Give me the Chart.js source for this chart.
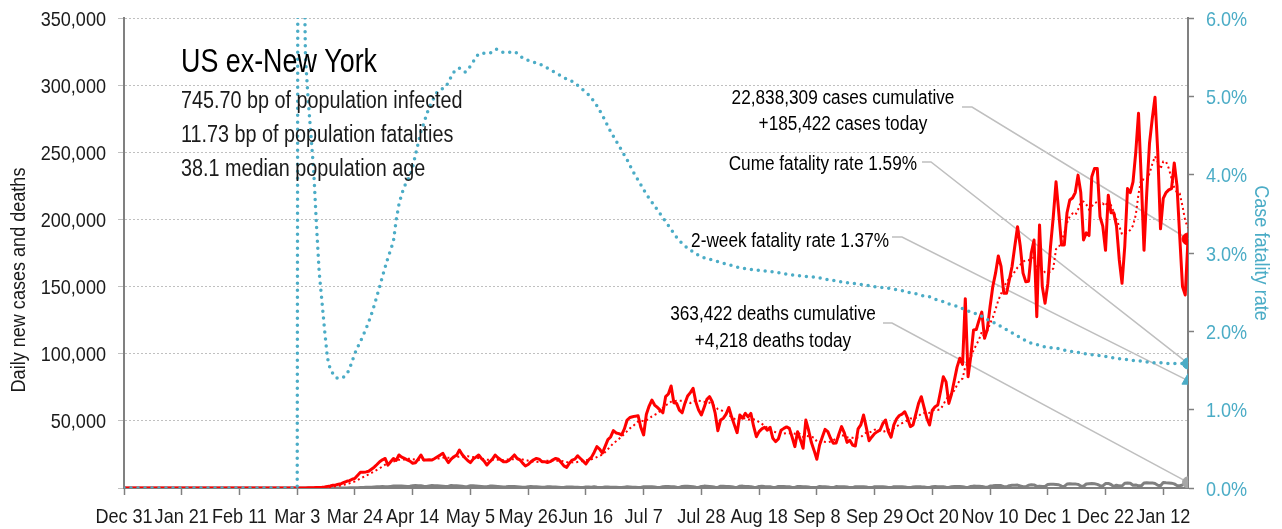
<!DOCTYPE html>
<html>
<head>
<meta charset="utf-8">
<script src="https://cdn.jsdelivr.net/npm/chart.js@4.4.1/dist/chart.umd.min.js"></script>
<style>
  html, body { margin: 0; padding: 0; background: #fff; }
  #wrap { width: 1282px; height: 529px; position: relative; }
</style>
</head>
<body>
<div id="wrap"><canvas id="cfr-chart"></canvas></div>
<script>
// narrow look: Liberation Sans squeezed horizontally
const FONT = '"Liberation Sans", Arial, sans-serif';
const SX = 0.86;
const TEAL = '#4BACC6';
const INK = '#1a1a1a';

// x axis: day 0 = Dec 31 2019, one point per day
const tickDays = [0, 21, 42, 63, 84, 105, 126, 147, 168, 189, 210, 231, 252, 273, 294, 315, 336, 357, 378];
const tickLabels = ["Dec 31", "Jan 21", "Feb 11", "Mar 3", "Mar 24", "Apr 14", "May 5", "May 26", "Jun 16", "Jul 7",
    "Jul 28", "Aug 18", "Sep 8", "Sep 29", "Oct 20", "Nov 10", "Dec 1", "Dec 22", "Jan 12"];
const lastDay = 387;

const dailyCases = [
    0, 0, 0, 0, 0, 0, 0,  0, 0, 0, 0, 0, 0, 0,  0, 0, 0, 0, 0, 0, 0,
    0, 0, 0, 0, 0, 0, 0,  0, 0, 0, 0, 0, 0, 0,  0, 0, 0, 0, 0, 0, 0,
    0, 0, 0, 0, 0, 0, 0,  0, 0, 0, 0, 0, 0, 0,  0, 0, 0, 0, 0, 0, 0,
    30, 40, 60, 90, 130, 150, 200,
    300, 400, 500, 700, 1200, 1500, 2000,
    2300, 2800, 3200, 4200, 5000, 5500, 6500,
    7200, 9500, 11700, 11800, 12000, 12500, 14000,
    15500, 17500, 19600, 21000, 22000, 17000, 19500,
    22000, 20500, 24600, 23000, 22000, 21000, 20000,
    18400, 18800, 21500, 24600, 20800, 20800, 21000,
    20800, 22000, 23300, 24500, 25800, 22000, 18900,
    21500, 23300, 24500, 28300, 25000, 22500, 20500,
    18900, 21500, 23000, 24600, 22000, 20000, 17100,
    19500, 21500, 24600, 22500, 21000, 19600, 19500,
    20500, 22500, 24600, 22000, 21000, 18500, 16400,
    17500, 19500, 21000, 22000, 21500, 19600, 19600,
    19000, 19600, 21000, 22000, 21400, 19000, 16500,
    15400, 18500, 20800, 21500, 24000, 22000, 20000,
    17900, 21000, 22800, 26500, 30800, 29000, 26000,
    31000, 36000, 38000, 42700, 41000, 40500, 39500,
    44000, 50600, 52500, 53000, 53500, 53800, 45000,
    39500, 55000, 61000, 65500, 61800, 60000, 58000,
    56000, 68000, 70000, 76000, 63500, 63000, 58000,
    56000, 63000, 68500, 71000, 74200, 64000, 58000,
    54400, 60000, 66000, 68000, 64000, 56000, 42700,
    50600, 52000, 55000, 60000, 53000, 47000, 41200,
    54400, 52000, 55600, 53000, 55600, 46000, 38200,
    42000, 44000, 45200, 43000, 45200, 37000, 34500,
    36500, 43000, 44400, 45500, 44400, 38000, 30800,
    41900, 36000, 29600, 50600, 43000, 34000, 28000,
    21400, 32000, 38000, 43700, 42000, 37000, 33300,
    33500, 40000, 45700, 41000, 34000, 35500, 32000,
    31300, 44000, 47000, 54400, 45000, 35200, 38000,
    40500, 42000, 43200, 48000, 50600, 42000, 37800,
    47000, 51500, 54000, 55000, 56800, 52000, 45700,
    47000, 55000, 63000, 68000, 60000, 52000, 46900,
    58000, 60500, 61800, 72000, 82900, 79000, 63000,
    70000, 80000, 90000, 96600, 92000, 141000, 82900,
    98000, 117700, 118000, 125000, 131000, 111500, 118000,
    135000, 150000, 160000, 172800, 165000, 145000, 145000,
    155000, 165000, 180000, 194600, 180000, 160000, 153600,
    154000, 175000, 184700, 127600, 195900, 150000, 137500,
    152000, 180000, 202000, 228000, 205000, 181000, 181000,
    205000, 214500, 216000, 220000, 233000, 220000, 184700,
    190000, 188000, 231800, 238000, 238000, 202000, 195000,
    177000, 218000, 205000, 205000, 195000, 170000, 152400,
    180000, 223000, 220000, 228000, 250000, 279000, 230000,
    177000, 220000, 256700, 275000, 291000, 250000, 193000,
    215700, 220000, 222000, 223000, 242000, 225000, 187000,
    150000, 143700, 185422
];

const casesAvg7 = [
    0, 0, 0, 0, 0, 0, 0,  0, 0, 0, 0, 0, 0, 0,  0, 0, 0, 0, 0, 0, 0,
    0, 0, 0, 0, 0, 0, 0,  0, 0, 0, 0, 0, 0, 0,  0, 0, 0, 0, 0, 0, 0,
    0, 0, 0, 0, 0, 0, 0,  0, 0, 0, 0, 0, 0, 0,  0, 0, 0, 0, 0, 0, 0,
    0, 10, 20, 30, 50, 70, 100,
    140, 190, 250, 340, 490, 690, 940,
    1230, 1570, 1960, 2460, 3000, 3570, 4210,
    4910, 5870, 7090, 8170, 9170, 10170, 11240,
    12430, 13570, 14700, 16010, 17440, 18090, 18870,
    19800, 20230, 20940, 21230, 21230, 21800, 21870,
    21360, 21110, 20670, 20900, 20730, 20700, 20840,
    21190, 21640, 21900, 21890, 22600, 22770, 22470,
    22570, 22760, 22930, 23470, 23360, 23430, 23660,
    23290, 23030, 22810, 22290, 21860, 21500, 21010,
    21100, 21100, 21330, 21030, 20890, 20830, 21170,
    21310, 21460, 21460, 21390, 21390, 21230, 20790,
    20360, 19930, 19410, 19410, 19490, 19640, 20100,
    20310, 20330, 20330, 20330, 20310, 20230, 19790,
    19270, 19110, 19090, 19010, 19390, 19810, 20310,
    20670, 21030, 21310, 22030, 23000, 24000, 24860,
    26730, 28870, 31040, 33360, 34810, 36460, 38390,
    40240, 42330, 44400, 45870, 47660, 49560, 50340,
    49700, 50330, 51540, 53330, 54510, 55400, 57260,
    59610, 61470, 62760, 64260, 64500, 64930, 64930,
    64930, 64210, 64000, 63290, 64810, 64960, 64960,
    64730, 64300, 63940, 63510, 62060, 60910, 58730,
    58190, 57040, 55470, 54330, 52760, 51470, 51260,
    51800, 51800, 51890, 50890, 51260, 51110, 50690,
    48910, 47770, 46290, 44860, 43370, 42090, 41560,
    40770, 40630, 40510, 40870, 40760, 40900, 40370,
    41140, 40140, 38030, 38760, 38560, 37990, 37590,
    34660, 34090, 35290, 34300, 34160, 34590, 35340,
    37070, 38210, 39310, 38930, 37790, 37570, 37390,
    37070, 37640, 37830, 39740, 41310, 41270, 42130,
    43440, 43160, 42610, 41700, 42500, 43470, 43440,
    44370, 45730, 47270, 48270, 49160, 50590, 51710,
    51710, 52210, 53500, 55360, 55810, 55810, 55990,
    57560, 58340, 58170, 58740, 62010, 65870, 68170,
    69890, 72670, 76700, 80210, 81510, 90370, 93210,
    97210, 102600, 106600, 110660, 116230, 112010, 117030,
    122310, 126930, 132930, 139760, 144610, 149400, 153260,
    156110, 158260, 161110, 164230, 166370, 168510, 169740,
    169600, 171030, 171700, 162130, 164400, 162970, 160670,
    160390, 161100, 163570, 177910, 179210, 183640, 189860,
    197430, 202360, 204360, 203210, 207210, 212790, 213310,
    211170, 207390, 209640, 212210, 212930, 210360, 211830,
    209970, 214260, 210430, 205710, 199570, 195000, 188910,
    189340, 190060, 192200, 195490, 203340, 218910, 230000,
    229570, 229140, 234390, 241100, 246960, 242810, 237530,
    243060, 243060, 238100, 230670, 223670, 220100, 219240,
    209860, 198960, 193730
];

const dailyDeaths = [
    0, 0, 0, 0, 0, 0, 0,  0, 0, 0, 0, 0, 0, 0,  0, 0, 0, 0, 0, 0, 0,
    0, 0, 0, 0, 0, 0, 0,  0, 0, 0, 0, 0, 0, 0,  0, 0, 0, 0, 0, 0, 0,
    0, 0, 0, 0, 0, 0, 0,  0, 0, 0, 0, 0, 0, 0,  0, 0, 0, 0, 0, 0, 0,
    1, 2, 1, 3, 2, 3, 4,
    5, 8, 8, 12, 15, 20, 25,
    30, 40, 55, 70, 90, 120, 160,
    200, 280, 330, 400, 500, 600, 650,
    800, 900, 1000, 1100, 1000, 900, 1200,
    1500, 1500, 1500, 1400, 1300, 1100, 1300,
    1700, 1800, 1700, 1700, 1400, 1200, 1500,
    1800, 1700, 1600, 1500, 1300, 1100, 1400,
    1800, 1700, 1600, 1500, 1300, 1000, 1200,
    1700, 1600, 1500, 1300, 1100, 900, 1000,
    1400, 1400, 1300, 1200, 1000, 800, 900,
    1200, 1200, 1100, 1000, 800, 500, 600,
    900, 1100, 1000, 900, 700, 500, 600,
    900, 900, 800, 700, 600, 400, 400,
    800, 800, 700, 600, 500, 350, 400,
    700, 700, 600, 1000, 500, 300, 350,
    700, 700, 600, 600, 550, 300, 300,
    650, 900, 800, 600, 600, 400, 350,
    900, 900, 900, 850, 700, 450, 400,
    1000, 1200, 1100, 1000, 900, 500, 450,
    1100, 1300, 1300, 1200, 1000, 500, 450,
    1200, 1400, 1300, 1200, 1000, 550, 450,
    1300, 1300, 1200, 1100, 1000, 500, 450,
    1300, 1400, 1200, 1100, 1000, 500, 400,
    1200, 1300, 1100, 1000, 900, 400, 350,
    1100, 1200, 1100, 1000, 900, 400, 350,
    1100, 1100, 1000, 900, 800, 300, 300,
    400, 1100, 900, 900, 800, 400, 300,
    1100, 1000, 900, 850, 750, 300, 300,
    1000, 1000, 950, 900, 750, 300, 300,
    900, 900, 950, 900, 700, 400, 300,
    900, 900, 950, 900, 700, 400, 300,
    800, 1000, 950, 850, 800, 450, 400,
    900, 1100, 1000, 950, 900, 500, 450,
    1000, 1100, 1100, 1050, 1000, 550, 450,
    1100, 1400, 1300, 1300, 1200, 700, 550,
    1500, 1600, 1800, 1900, 1800, 1000, 900,
    1700, 2000, 2100, 2200, 1500, 1000, 900,
    2100, 2400, 2300, 1200, 1400, 1100, 1100,
    2600, 2800, 2800, 2600, 2400, 1400, 1200,
    2900, 3100, 3000, 2900, 2700, 1500, 1300,
    3000, 3200, 3300, 3100, 2700, 1700, 1500,
    3300, 3400, 2600, 1200, 2100, 1600, 1500,
    3500, 3700, 3500, 2000, 2300, 1600, 1600,
    3700, 3900, 3800, 3800, 3300, 2100, 1700,
    4100, 3900, 3800, 3600, 3100, 1900, 1700,
    2200, 3800, 4218
];

// cumulative case fatality rate, percent
const fatalityRate = [
    0, 0, 0, 0, 0, 0, 0,  0, 0, 0, 0, 0, 0, 0,  0, 0, 0, 0, 0, 0, 0,
    0, 0, 0, 0, 0, 0, 0,  0, 0, 0, 0, 0, 0, 0,  0, 0, 0, 0, 0, 0, 0,
    0, 0, 0, 0, 0, 0, 0,  0, 0, 0, 0, 0, 0, 0,  0, 0, 0, 0, 0, 0, 0,
    0, 30, 8, 5.5, 4.95, 4.5, 4.05,
    3.36, 2.75, 2.38, 2.0, 1.66, 1.52, 1.46,
    1.41, 1.40, 1.40, 1.42, 1.45, 1.52, 1.62,
    1.72, 1.8, 1.87, 1.95, 2.03, 2.12, 2.22,
    2.33, 2.45, 2.57, 2.7, 2.82, 2.94, 3.04,
    3.15, 3.42, 3.62, 3.75, 3.85, 3.92, 3.98,
    4.1, 4.25, 4.4, 4.55, 4.65, 4.76, 4.86,
    4.93, 5.0, 5.06, 5.08, 5.1, 5.12, 5.18,
    5.25, 5.31, 5.35, 5.36, 5.33, 5.31, 5.33,
    5.39, 5.44, 5.5, 5.54, 5.55, 5.55, 5.55,
    5.55, 5.57, 5.6, 5.6, 5.58, 5.56, 5.56,
    5.56, 5.57, 5.57, 5.55, 5.52, 5.49, 5.47,
    5.46, 5.45, 5.44, 5.42, 5.41, 5.4, 5.38,
    5.36, 5.34, 5.32, 5.3, 5.28, 5.26, 5.24,
    5.22, 5.21, 5.19, 5.17, 5.14, 5.11, 5.08,
    5.05, 5.02, 4.98, 4.93, 4.88, 4.82, 4.76,
    4.69, 4.62, 4.55, 4.49, 4.43, 4.37, 4.31,
    4.25, 4.19, 4.12, 4.05, 3.99, 3.93, 3.87,
    3.81, 3.75, 3.7, 3.65, 3.6, 3.55, 3.5,
    3.45, 3.4, 3.35, 3.3, 3.25, 3.2, 3.16,
    3.12, 3.09, 3.06, 3.04, 3.01, 2.99, 2.97,
    2.95, 2.94, 2.93, 2.92, 2.91, 2.9, 2.89,
    2.88, 2.87, 2.86, 2.85, 2.84, 2.83, 2.82,
    2.81, 2.81, 2.8, 2.8, 2.79, 2.79, 2.78,
    2.78, 2.78, 2.77, 2.77, 2.76, 2.76, 2.75,
    2.75, 2.74, 2.74, 2.73, 2.73, 2.72, 2.72,
    2.71, 2.71, 2.71, 2.7, 2.7, 2.7, 2.69,
    2.69, 2.68, 2.68, 2.67, 2.66, 2.66, 2.65,
    2.65, 2.64, 2.63, 2.63, 2.62, 2.62, 2.61,
    2.61, 2.6, 2.6, 2.59, 2.59, 2.58, 2.58,
    2.57, 2.57, 2.56, 2.56, 2.55, 2.55, 2.54,
    2.54, 2.53, 2.52, 2.52, 2.51, 2.5, 2.49,
    2.49, 2.48, 2.47, 2.46, 2.45, 2.45, 2.44,
    2.43, 2.41, 2.4, 2.39, 2.38, 2.37, 2.35,
    2.34, 2.33, 2.32, 2.31, 2.29, 2.28, 2.26,
    2.25, 2.24, 2.22, 2.21, 2.19, 2.17, 2.15,
    2.13, 2.12, 2.1, 2.08, 2.06, 2.04, 2.02,
    2.0, 1.98, 1.96, 1.94, 1.92, 1.9, 1.88,
    1.86, 1.85, 1.84, 1.83, 1.82, 1.81, 1.8,
    1.8, 1.79, 1.79, 1.78, 1.78, 1.77, 1.76,
    1.76, 1.75, 1.74, 1.74, 1.73, 1.72, 1.72,
    1.71, 1.71, 1.7, 1.7, 1.69, 1.69, 1.68,
    1.68, 1.67, 1.67, 1.66, 1.66, 1.65, 1.65,
    1.64, 1.64, 1.63, 1.63, 1.62, 1.62, 1.62,
    1.61, 1.61, 1.61, 1.6, 1.6, 1.6, 1.6,
    1.59, 1.59, 1.59, 1.59, 1.59, 1.59, 1.59,
    1.59, 1.59, 1.59
];
const twoWeekRate = 1.37;

const titleText = "US ex-New York";
const statLines = ["745.70 bp of population infected", "11.73 bp of population fatalities", "38.1 median population age"];

// callouts: text block, leader elbow, and the end point it points to
const notes = [
    { lines: ["22,838,309 cases cumulative", "+185,422 cases today"], align: 'center', x: 843, y: [104, 130],
      elbow: [[962, 107], [972, 107]], axis: 'y', value: dailyCases[lastDay] },
    { lines: ["Cume fatality rate 1.59%"], align: 'right', x: 917, y: [170],
      elbow: [[922, 162], [931, 162]], axis: 'y2', value: fatalityRate[lastDay] },
    { lines: ["2-week fatality rate 1.37%"], align: 'right', x: 889, y: [247],
      elbow: [[892, 237], [902, 237]], axis: 'y2', value: twoWeekRate },
    { lines: ["363,422 deaths cumulative", "+4,218 deaths today"], align: 'center', x: 773, y: [320, 347],
      elbow: [[883, 323], [892, 323]], axis: 'y', value: dailyDeaths[lastDay] }
];

function pts(arr) {
    return arr.map((v, i) => ({ x: i, y: v }));
}
function endPoint(v) {
    return [{ x: lastDay, y: v }];
}

// squeezed text, optional rotation
function txt(ctx, s, x, y, size, align, color, sx, rot) {
    ctx.save();
    ctx.translate(x, y);
    if (rot) ctx.rotate(rot);
    ctx.scale(sx || SX, 1);
    ctx.font = size + 'px ' + FONT;
    ctx.textAlign = align;
    ctx.textBaseline = 'alphabetic';
    ctx.fillStyle = color;
    ctx.fillText(s, 0, 0);
    ctx.restore();
}

const decor = {
    id: 'decor',
    beforeDatasetsDraw(chart) {
        const ctx = chart.ctx;
        const xs = chart.scales.x;
        ctx.save();
        ctx.strokeStyle = '#BFBFBF';
        ctx.lineWidth = 1.5;
        notes.forEach(n => {
            ctx.beginPath();
            ctx.moveTo(n.elbow[0][0], n.elbow[0][1]);
            ctx.lineTo(n.elbow[1][0], n.elbow[1][1]);
            ctx.lineTo(xs.getPixelForValue(lastDay), chart.scales[n.axis].getPixelForValue(n.value));
            ctx.stroke();
        });
        ctx.restore();
    },
    afterDraw(chart) {
        const ctx = chart.ctx;
        const { x, y, y2 } = chart.scales;

        // tick labels
        x.ticks.forEach((t, i) => txt(ctx, tickLabels[i], x.getPixelForValue(t.value), 523, 21, 'center', INK));
        y.ticks.forEach(t => {
            if (t.value === 0) return;
            txt(ctx, t.value.toLocaleString('en-US'), 106, y.getPixelForValue(t.value) + 7.5, 21, 'right', INK);
        });
        y2.ticks.forEach(t => {
            txt(ctx, t.value.toFixed(1) + '%', 1206, y2.getPixelForValue(t.value) + 7.5, 21, 'left', TEAL);
        });

        // axis titles
        txt(ctx, "Daily new cases and deaths", 25, 280, 21, 'center', INK, SX, -Math.PI / 2);
        txt(ctx, "Case fatality rate", 1255, 253, 21, 'center', TEAL, SX, Math.PI / 2);

        // title block
        txt(ctx, titleText, 181, 72, 34, 'left', '#000', 0.79);
        statLines.forEach((s, i) => txt(ctx, s, 181, 108 + i * 34, 23, 'left', INK));

        // callouts
        notes.forEach(n => {
            n.lines.forEach((s, i) => txt(ctx, s, n.x, n.y[i], 20, n.align, '#000'));
        });
    }
};

new Chart(document.getElementById("cfr-chart"), {
    type: 'line',
    data: {
        datasets: [{
            data: endPoint(dailyCases[lastDay]),
            yAxisID: 'y',
            showLine: false,
            pointRadius: 6,
            pointBackgroundColor: '#FF0000',
            pointBorderColor: '#FF0000'
        }, {
            data: endPoint(fatalityRate[lastDay]),
            yAxisID: 'y2',
            showLine: false,
            pointRadius: 5.5,
            pointBackgroundColor: TEAL,
            pointBorderColor: TEAL
        }, {
            data: endPoint(twoWeekRate),
            yAxisID: 'y2',
            showLine: false,
            pointStyle: 'triangle',
            pointRadius: 7,
            pointBackgroundColor: TEAL,
            pointBorderColor: TEAL
        }, {
            data: endPoint(dailyDeaths[lastDay]),
            yAxisID: 'y',
            showLine: false,
            pointRadius: 5.5,
            pointBackgroundColor: '#A6A6A6',
            pointBorderColor: '#A6A6A6'
        }, {
            label: "Case fatality rate",
            data: pts(fatalityRate),
            yAxisID: 'y2',
            borderColor: TEAL,
            borderWidth: 3.5,
            borderDash: [0, 7],
            borderCapStyle: 'round',
            pointRadius: 0,
            fill: false
        }, {
            label: "Daily new cases",
            data: pts(dailyCases),
            yAxisID: 'y',
            borderColor: '#FF0000',
            borderWidth: 3,
            borderJoinStyle: 'round',
            pointRadius: 0,
            fill: false
        }, {
            label: "7-day average",
            data: pts(casesAvg7),
            yAxisID: 'y',
            borderColor: '#FF0000',
            borderWidth: 2,
            borderDash: [2, 3],
            pointRadius: 0,
            fill: false
        }, {
            label: "Daily deaths",
            data: pts(dailyDeaths),
            yAxisID: 'y',
            borderColor: '#808080',
            borderWidth: 3,
            borderJoinStyle: 'round',
            pointRadius: 0,
            fill: false
        }]
    },
    options: {
        responsive: true,
        maintainAspectRatio: false,
        animation: false,
        devicePixelRatio: 1,
        layout: { padding: { top: 18, left: 0, right: 0, bottom: 0 } },
        plugins: {
            legend: { display: false },
            tooltip: { enabled: false },
            title: { display: false }
        },
        scales: {
            x: {
                type: 'linear',
                min: 0,
                max: lastDay,
                afterBuildTicks: (scale) => { scale.ticks = tickDays.map(v => ({ value: v })); },
                afterFit: (scale) => { scale.height = 41; },
                border: { color: '#808080', width: 2 },
                grid: { drawOnChartArea: false, tickLength: 7, tickColor: '#808080', tickWidth: 1.5 },
                ticks: { display: false }
            },
            y: {
                position: 'left',
                min: 0,
                max: 350000,
                afterFit: (scale) => { scale.width = 124; },
                border: { color: '#808080', width: 2, dash: [2, 2] },
                grid: { color: '#C0C0C0', lineWidth: 1, tickLength: 6, tickColor: '#C0C0C0' },
                ticks: { display: false, stepSize: 50000 }
            },
            y2: {
                position: 'right',
                min: 0,
                max: 6,
                afterFit: (scale) => { scale.width = 94; },
                border: { color: '#808080', width: 2 },
                grid: { drawOnChartArea: false, tickLength: 6, tickColor: '#808080', tickWidth: 1.5 },
                ticks: { display: false, stepSize: 1 }
            }
        }
    },
    plugins: [decor]
});
</script>
</body>
</html>
